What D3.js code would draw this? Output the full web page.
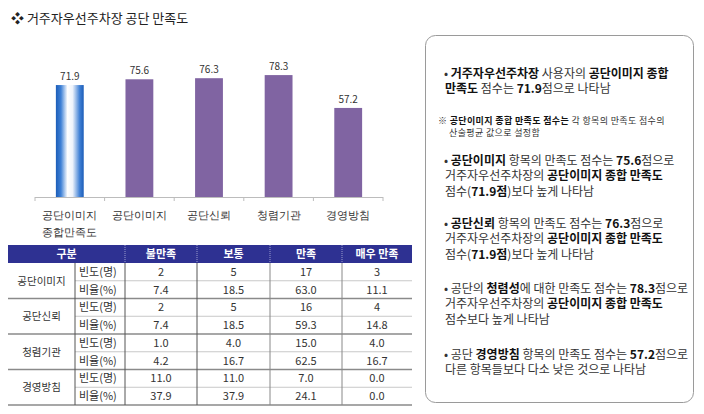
<!DOCTYPE html>
<html>
<head>
<meta charset="utf-8">
<script src="https://cdn.jsdelivr.net/npm/d3@7"></script>
<style>
  body { margin: 0; background: #fff; }
  svg { font-family: "Noto Sans CJK KR", "Noto Sans", sans-serif; }
</style>
</head>
<body>
<div id="chart"></div>
<script>
// bar chart data
const categories = ["공단이미지\n종합만족도", "공단이미지", "공단신뢰", "청렴기관", "경영방침"];
const scores = [71.9, 75.6, 76.3, 78.3, 57.2];

// table data
const tableHeaders = ["구분", "불만족", "보통", "만족", "매우 만족"];
const tableGroups = ["공단이미지", "공단신뢰", "청렴기관", "경영방침"];
const rowLabels = ["빈도(명)", "비율(%)"];
const freqValues = [
    ["2", "5", "17", "3"],
    ["2", "5", "16", "4"],
    ["1.0", "4.0", "15.0", "4.0"],
    ["11.0", "11.0", "7.0", "0.0"]
];
const ratioValues = [
    ["7.4", "18.5", "63.0", "11.1"],
    ["7.4", "18.5", "59.3", "14.8"],
    ["4.2", "16.7", "62.5", "16.7"],
    ["37.9", "37.9", "24.1", "0.0"]
];

// summary box text, [text, bold]
const notes = [
    { small: false, lines: [
        [["• ", false], ["거주자우선주차장", true], [" 사용자의 ", false], ["공단이미지 종합", true]],
        [["만족도", true], [" 점수는 ", false], ["71.9", true], ["점으로 나타남", false]]
    ]},
    { small: true, lines: [
        [["※ ", false], ["공단이미지 종합 만족도 점수는", true], [" 각 항목의 만족도 점수의", false]],
        [["산술평균 값으로 설정함", false]]
    ]},
    { small: false, lines: [
        [["• ", false], ["공단이미지", true], [" 항목의 만족도 점수는 ", false], ["75.6", true], ["점으로", false]],
        [["거주자우선주차장의 ", false], ["공단이미지 종합 만족도", true]],
        [["점수(", false], ["71.9점", true], [")보다 높게 나타남", false]]
    ]},
    { small: false, lines: [
        [["• ", false], ["공단신뢰", true], [" 항목의 만족도 점수는 ", false], ["76.3", true], ["점으로", false]],
        [["거주자우선주차장의 ", false], ["공단이미지 종합 만족도", true]],
        [["점수(", false], ["71.9점", true], [")보다 높게 나타남", false]]
    ]},
    { small: false, lines: [
        [["• 공단의 ", false], ["청렴성", true], ["에 대한 만족도 점수는 ", false], ["78.3", true], ["점으로", false]],
        [["거주자우선주차장의 ", false], ["공단이미지 종합 만족도", true]],
        [["점수보다 높게 나타남", false]]
    ]},
    { small: false, lines: [
        [["• 공단 ", false], ["경영방침", true], [" 항목의 만족도 점수는 ", false], ["57.2", true], ["점으로", false]],
        [["다른 항목들보다 다소 낮은 것으로 나타남", false]]
    ]}
];
const noteTops = [73, 120, 160, 223, 288, 354];

const width = 704, height = 414;
const svg = d3.select("#chart").append("svg")
    .attr("width", width)
    .attr("height", height);

// title
svg.append("text")
    .attr("x", 11)
    .attr("y", 23)
    .attr("font-size", 13)
    .attr("fill", "#222")
    .text("❖ 거주자우선주차장 공단 만족도");

// gradient for the overall bar
const grad = svg.append("defs").append("linearGradient")
    .attr("id", "blueGrad")
    .attr("x1", "0%").attr("x2", "100%")
    .attr("y1", "0%").attr("y2", "0%");
[[0, "#1c5db8"], [0.18, "#3d80d6"], [0.42, "#ffffff"], [0.6, "#eef3fb"], [0.85, "#4282d6"], [1, "#1c5db8"]]
    .forEach(([o, c]) => grad.append("stop").attr("offset", o).attr("stop-color", c));

// bar chart
const baseY = 197;
const x = d3.scaleBand()
    .domain(categories)
    .range([35, 383])
    .paddingInner(0.6)
    .paddingOuter(0.3);
const y = d3.scaleLinear()
    .domain([0, 100])
    .range([baseY, baseY - 155.7]);

const chart = svg.append("g");

chart.selectAll("rect.bar")
    .data(scores)
    .join("rect")
    .attr("class", "bar")
    .attr("x", (d, i) => x(categories[i]))
    .attr("y", d => y(d))
    .attr("width", x.bandwidth())
    .attr("height", d => baseY - y(d))
    .attr("fill", (d, i) => i === 0 ? "url(#blueGrad)" : "#8064a2");

chart.selectAll("text.val")
    .data(scores)
    .join("text")
    .attr("class", "val")
    .attr("x", (d, i) => x(categories[i]) + x.bandwidth() / 2)
    .attr("y", d => y(d) - 5)
    .attr("text-anchor", "middle")
    .attr("font-size", 10)
    .attr("fill", "#333")
    .text(d => d.toFixed(1));

// axis line with ticks at the band boundaries
const step = x.step();
const bounds = categories.map(c => x(c) - step * 0.3).concat([x(categories[categories.length - 1]) + x.bandwidth() + step * 0.3]);
chart.append("line")
    .attr("x1", bounds[0]).attr("x2", bounds[bounds.length - 1])
    .attr("y1", baseY + 0.5).attr("y2", baseY + 0.5)
    .attr("stroke", "#bcbcbc");
chart.selectAll("line.tick")
    .data(bounds)
    .join("line")
    .attr("class", "tick")
    .attr("x1", d => d).attr("x2", d => d)
    .attr("y1", baseY).attr("y2", baseY + 4)
    .attr("stroke", "#bcbcbc");

const xAxis = chart.append("g")
    .attr("transform", `translate(0,${baseY})`)
    .call(d3.axisBottom(x).tickSize(0).tickFormat(""));
xAxis.select(".domain").remove();
xAxis.selectAll(".tick").each(function(d) {
    const t = d3.select(this).append("text")
        .attr("text-anchor", "middle")
        .attr("font-size", 10.5)
        .attr("fill", "#333");
    d.split("\n").forEach((line, i) => {
        t.append("tspan").attr("x", 0).attr("y", 22 + i * 17).text(line);
    });
});

// table
const colX = [8, 75, 125, 197, 270, 342, 412];
const headTop = 245, headH = 18, rowH = 17.75;
const table = svg.append("g").attr("font-size", 11);

table.append("rect")
    .attr("x", colX[0]).attr("y", headTop)
    .attr("width", colX[6] - colX[0]).attr("height", headH)
    .attr("fill", "#2e3192");

tableHeaders.forEach((h, i) => {
    const cx = i === 0 ? (colX[0] + colX[2]) / 2 : (colX[i + 1] + colX[i + 2]) / 2;
    table.append("text")
        .attr("x", cx).attr("y", headTop + 13)
        .attr("text-anchor", "middle")
        .attr("fill", "#fff")
        .attr("font-weight", "bold")
        .text(h);
});
[colX[2], colX[3], colX[4], colX[5]].forEach(cx => {
    table.append("line")
        .attr("x1", cx).attr("x2", cx)
        .attr("y1", headTop).attr("y2", headTop + headH)
        .attr("stroke", "#9a9ccc").attr("stroke-dasharray", "1,1");
});

const bodyTop = headTop + headH;
tableGroups.forEach((g, gi) => {
    const top = bodyTop + gi * 2 * rowH;
    table.append("text")
        .attr("x", (colX[0] + colX[1]) / 2).attr("y", top + rowH + 4)
        .attr("text-anchor", "middle")
        .attr("font-size", 10.5)
        .attr("fill", "#333")
        .text(g);
    [freqValues[gi], ratioValues[gi]].forEach((vals, ri) => {
        const ry = top + ri * rowH + rowH / 2 + 4;
        table.append("text")
            .attr("x", colX[1] + 4).attr("y", ry)
            .attr("fill", "#333")
            .text(rowLabels[ri]);
        vals.forEach((v, ci) => {
            table.append("text")
                .attr("x", (colX[ci + 2] + colX[ci + 3]) / 2).attr("y", ry)
                .attr("text-anchor", "middle")
                .attr("fill", "#333")
                .text(v);
        });
    });
    // light line between rows of a group
    table.append("line")
        .attr("x1", colX[1]).attr("x2", colX[6])
        .attr("y1", top + rowH).attr("y2", top + rowH)
        .attr("stroke", "#c8c8c8");
    // group separator
    table.append("line")
        .attr("x1", colX[0]).attr("x2", colX[6])
        .attr("y1", top + 2 * rowH).attr("y2", top + 2 * rowH)
        .attr("stroke", "#8a8a8a").attr("stroke-width", 1.5);
});
const bodyBottom = bodyTop + tableGroups.length * 2 * rowH;
colX.slice(1, 6).forEach((cx, i) => {
    table.append("line")
        .attr("x1", cx).attr("x2", cx)
        .attr("y1", bodyTop).attr("y2", bodyBottom)
        .attr("stroke", i < 3 ? "#555" : "#888");
});

// summary box
svg.append("rect")
    .attr("x", 425.5).attr("y", 35.5)
    .attr("width", 268).attr("height", 367)
    .attr("rx", 10).attr("ry", 10)
    .attr("fill", "#fff")
    .attr("stroke", "#9a9a9a");

const box = svg.append("g");
notes.forEach((n, ni) => {
    n.lines.forEach((line, li) => {
        const t = box.append("text")
            .attr("x", n.small ? (li === 0 ? 438 : 449) : (li === 0 ? 444 : 445))
            .attr("y", noteTops[ni] + (n.small ? li * 12 : li * 15.8) + (n.small ? 3.5 : 4.5))
            .attr("font-size", n.small ? 9 : 12)
            .attr("letter-spacing", n.small ? 0.35 : 0)
            .attr("fill", "#333");
        line.forEach(([s, b]) => {
            t.append("tspan")
                .attr("font-weight", b ? "bold" : "normal")
                .attr("fill", b ? "#111" : "#333")
                .text(s);
        });
    });
});
</script>
</body>
</html>
